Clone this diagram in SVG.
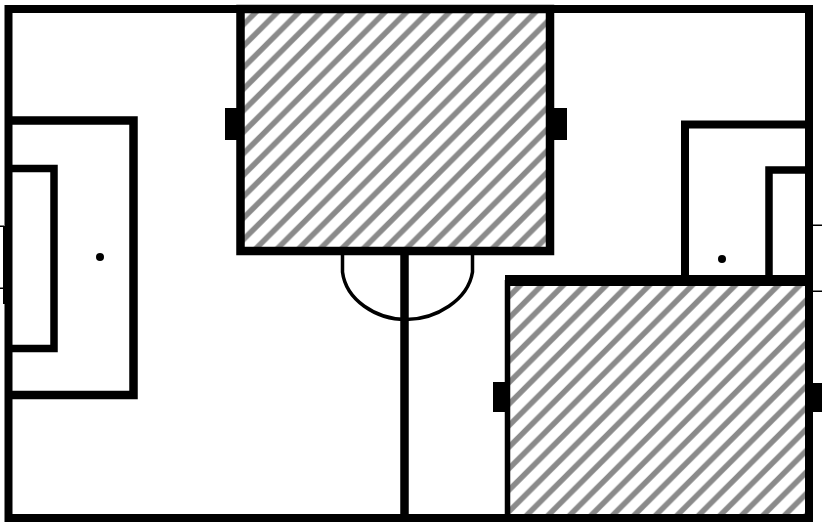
<svg xmlns="http://www.w3.org/2000/svg" width="822" height="522" viewBox="0 0 822 522">
<style>
.l{fill:none;stroke:#000}
.k{fill:#000;stroke:none}
</style>
<defs>
<pattern id="hatch" width="21.500" height="21.500" patternUnits="userSpaceOnUse">
<rect width="21.500" height="21.500" fill="#fff"/>
<path d="M-5,15 L15,-5 M-5,36.500 L36.500,-5" stroke="#8a8a8a" stroke-width="5.500" fill="none"/>
</pattern>
</defs>
<rect width="822" height="522" fill="#fff"/>
<g id="pitch">
<rect class="l" x="8.500" y="9" width="800.500" height="509" stroke-width="8"/>
<rect class="k" x="3" y="226" width="3" height="78"/>
<rect class="k" x="0" y="225.500" width="4" height="1.500"/>
<rect class="k" x="0" y="287.500" width="4" height="1.500"/>
<rect class="k" x="813" y="224.500" width="9" height="1.500"/>
<rect class="k" x="813" y="290.500" width="9" height="1.500"/>
</g>
<g id="connectors">
<path class="l" stroke-width="8.500" d="M404.500,255 V514"/>
<path class="l" stroke-width="3.500" d="M342.500,255 V272 C346,300 376,319.500 406,319.500 C436,319.500 468,300 472.500,272 V255"/>
</g>
<g id="left-penalty-area">
<path class="l" stroke-width="8.500" d="M12,120.500 H133.500 V395 H12"/>
<path class="l" stroke-width="7.500" d="M12,168.500 H54 V348.500 H12"/>
<circle class="k" cx="100" cy="257" r="4"/>
</g>
<g id="right-penalty-area">
<path class="l" stroke-width="8" d="M805,124.500 H685 V276"/>
<path class="l" stroke-width="7.500" d="M805,170 H769 V276"/>
<circle class="k" cx="722" cy="259" r="4"/>
</g>
<g id="top-zone">
<rect x="240.500" y="9" width="309.500" height="242" fill="url(#hatch)"/>
<rect class="l" x="240.500" y="9" width="309.500" height="242" stroke-width="8.500"/>
<rect class="k" x="225" y="108" width="12" height="32"/>
<rect class="k" x="553" y="108" width="14" height="32"/>
</g>
<g id="bottom-zone">
<rect x="507.500" y="280.500" width="297.500" height="233.500" fill="url(#hatch)"/>
<path class="l" stroke-width="5.500" d="M507.500,514 V280"/>
<path class="l" stroke-width="11" d="M505,280.500 H805"/>
<rect class="k" x="493" y="382" width="12" height="30"/>
<rect class="k" x="813" y="383" width="9" height="29"/>
</g>
</svg>
